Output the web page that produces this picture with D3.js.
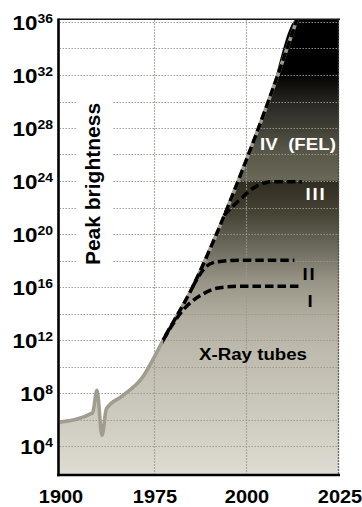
<!DOCTYPE html>
<html>
<head>
<meta charset="utf-8">
<script src="https://cdn.jsdelivr.net/npm/d3@7"></script>
<style>
  html, body { margin: 0; padding: 0; background: #fff; }
  svg { display: block; }
  text { font-family: "Liberation Sans", Arial, Helvetica, sans-serif; }
</style>
</head>
<body>
<svg id="chart" width="362" height="507"></svg>
<script>
// Peak brightness of X-ray sources over time (values are log10 of brightness)
const xTickYears = [1900, 1975, 2000, 2025];
const yTickExponents = [4, 8, 12, 16, 20, 24, 28, 32, 36];
const gridExponents = [4, 6, 8, 10, 12, 14, 16, 18, 20, 22, 24, 26, 28, 30, 32, 34, 36];

// X-ray tubes, then the free-electron-laser rise
const tubeYears = [1900, 1926, 1929.5, 1933.5, 1937, 1950, 1966, 1974];
const tubeExp   = [5.8,  6.5,  8.2,    4.8,    6.8,  7.8,  9.2,  10.5];
const felYears  = [1977.5, 1985.5, 1992, 1999, 2006, 2013.7];
const felExp    = [12,     16,     20,   24.8, 30,   36.2];

// Synchrotron generations I, II, III
const gen1Years = [1977.5, 1983, 1988.5, 1992, 1998, 2015];
const gen1Exp   = [12,     14.3, 15.5,   15.9, 16.05, 16.05];
const gen2Years = [1985.5, 1989, 1992, 1998, 2013];
const gen2Exp   = [16,     17.5, 17.9, 18.02, 18.02];
const gen3Years = [1994, 1997.6, 2002.8, 2007.3, 2015];
const gen3Exp   = [21.4, 22.4,   23.6,   23.95,  23.95];

const seriesLabels = ["IV  (FEL)", "III", "II", "I", "X-Ray tubes"];
const axisTitle = "Peak brightness";

// ---- layout ----
const svg = d3.select("#chart");
const plot = { left: 58.5, right: 339, top: 19.3, bottom: 475 };

const x = d3.scaleLinear().domain(xTickYears).range([60, 154, 246, 339]);
const y = d3.scaleLog().domain([1e4, 1e36]).range([446, 22]);
const yExp = e => y(Math.pow(10, e));
const topExp = Math.log10(y.invert(plot.top));
const crisp = v => Math.round(v) + 0.5;

const zip = (xs, es) => xs.map((yr, i) => ({ year: yr, exp: es[i] }));
const envelope = zip(tubeYears, tubeExp).concat(zip(felYears, felExp));
const envelopeFill = envelope.concat([{ year: 2025, exp: topExp }]);

const defs = svg.append("defs");

// colour ramp, keyed by exponent; breaks sharply at the third-generation level
const rampStops = [
  [topExp, "#000000"], [32.2, "#000000"], [31.6, "#0a0a08"], [29.7, "#2a2925"],
  [26.5, "#555446"], [24.05, "#6a6858"], [24.0, "#2f2c20"], [21.4, "#474536"],
  [18.9, "#6e6c5e"], [16.4, "#989587"], [13.9, "#b0ad9f"], [11.4, "#bdbaad"],
  [8.8, "#c5c2b6"], [6.3, "#cdcbbf"], [2.6, "#dbd9cf"], [1.8, "#e0ded5"]
];
const grad = defs.append("linearGradient")
  .attr("id", "ramp").attr("gradientUnits", "userSpaceOnUse")
  .attr("x1", 0).attr("x2", 0).attr("y1", plot.top).attr("y2", plot.bottom);
grad.selectAll("stop").data(rampStops).join("stop")
  .attr("offset", d => Math.max(0, Math.min(1, (yExp(d[0]) - plot.top) / (plot.bottom - plot.top))))
  .attr("stop-color", d => d[1]);

defs.append("clipPath").attr("id", "plotClip").append("rect")
  .attr("x", plot.left).attr("y", plot.top)
  .attr("width", plot.right - plot.left).attr("height", plot.bottom - plot.top);
defs.append("clipPath").attr("id", "felClip").append("rect")
  .attr("x", x(felYears[0])).attr("y", 0)
  .attr("width", 400).attr("height", 600);

// filled region under the envelope
const fillLayer = svg.append("g").attr("clip-path", "url(#plotClip)");
const area = d3.area()
  .x(d => x(d.year)).y0(plot.bottom).y1(d => yExp(d.exp))
  .curve(d3.curveMonotoneX);
fillLayer.append("path").datum(envelopeFill).attr("d", area).attr("fill", "url(#ramp)");

// dotted grid
const gridColor = "#9a9890";
const gridLayer = svg.append("g").attr("class", "grid");
gridLayer.selectAll("line.hgrid").data(gridExponents).join("line")
  .attr("class", "hgrid")
  .attr("x1", plot.left + 1).attr("x2", plot.right)
  .attr("y1", d => crisp(yExp(d))).attr("y2", d => crisp(yExp(d)))
  .attr("stroke", gridColor).attr("stroke-width", 1.2)
  .attr("stroke-dasharray", "1.4,1.6");
gridLayer.selectAll("line.vgrid").data(xTickYears.slice(1, 3)).join("line")
  .attr("class", "vgrid")
  .attr("x1", d => crisp(x(d))).attr("x2", d => crisp(x(d)))
  .attr("y1", plot.top + 1).attr("y2", plot.bottom)
  .attr("stroke", gridColor).attr("stroke-width", 1.2)
  .attr("stroke-dasharray", "1.4,1.6");
gridLayer.append("line")
  .attr("x1", crisp(x(2025)) - 1).attr("x2", crisp(x(2025)) - 1)
  .attr("y1", plot.top).attr("y2", plot.bottom)
  .attr("stroke", "#4a4a46").attr("stroke-width", 1.4)
  .attr("stroke-dasharray", "1.4,1.6");

// envelope outline and dashed curves
const curveLayer = svg.append("g").attr("clip-path", "url(#plotClip)");
const line = d3.line().x(d => x(d.year)).y(d => yExp(d.exp)).curve(d3.curveMonotoneX);
curveLayer.append("path").datum(envelope).attr("d", line)
  .attr("fill", "none").attr("stroke", "#a09d8f").attr("stroke-width", 3.6)
  .attr("stroke-linejoin", "round");

const dashed = sel => sel.attr("fill", "none").attr("stroke", "#000")
  .attr("stroke-width", 3.5).attr("stroke-dasharray", "8.5,4");
curveLayer.append("path").datum(envelope).attr("d", line)
  .attr("clip-path", "url(#felClip)").call(dashed);
[zip(gen1Years, gen1Exp), zip(gen2Years, gen2Exp), zip(gen3Years, gen3Exp)].forEach(s => {
  curveLayer.append("path").datum(s).attr("d", line).call(dashed);
});

// frame
svg.append("line").attr("x1", plot.left).attr("x2", plot.right + 1)
  .attr("y1", plot.top).attr("y2", plot.top)
  .attr("stroke", "#111").attr("stroke-width", 1.6);
svg.append("line").attr("x1", plot.left).attr("x2", plot.left)
  .attr("y1", plot.top - 0.8).attr("y2", plot.bottom + 1.3)
  .attr("stroke", "#000").attr("stroke-width", 2.6);
svg.append("line").attr("x1", plot.left - 1.3).attr("x2", plot.right + 1)
  .attr("y1", plot.bottom).attr("y2", plot.bottom)
  .attr("stroke", "#000").attr("stroke-width", 2.6);

// y tick labels: 10 with superscript exponent
const yt = svg.selectAll("g.ytick").data(yTickExponents).join("g")
  .attr("class", "ytick")
  .attr("transform", d => `translate(53,${yExp(d) + 8}) scale(1.12,1)`);
const ytText = yt.append("text").attr("text-anchor", "end")
  .attr("font-weight", "bold").attr("fill", "#000");
ytText.append("tspan").attr("font-size", 20).text("10");
ytText.append("tspan").attr("font-size", 12.5).attr("dy", -7).text(d => d);

// x tick labels
svg.selectAll("text.xtick").data(xTickYears).join("text")
  .attr("class", "xtick")
  .attr("transform", d => `translate(${x(d) + 1},503) scale(1.08,1)`)
  .attr("text-anchor", "middle").attr("font-weight", "bold")
  .attr("font-size", 18.5).attr("fill", "#000")
  .text(d => d);

// axis title on a white patch
svg.append("rect").attr("x", 76).attr("y", 90).attr("width", 36).attr("height", 184)
  .attr("fill", "#fff");
svg.append("text")
  .attr("transform", "translate(100,184) rotate(-90)")
  .attr("text-anchor", "middle").attr("font-size", 21).attr("font-weight", "bold")
  .attr("fill", "#000")
  .text(axisTitle);

// series labels
const labelPos = [
  { t: seriesLabels[0], x: 298, y: 150, fill: "#fff", ls: 0 },
  { t: seriesLabels[1], x: 316, y: 200, fill: "#fff", ls: 1.6 },
  { t: seriesLabels[2], x: 309.5, y: 279.5, fill: "#000", ls: 1.6 },
  { t: seriesLabels[3], x: 310, y: 307, fill: "#000", ls: 0 },
  { t: seriesLabels[4], x: 253, y: 360, fill: "#000", ls: 0 }
];
labelPos.forEach(p => {
  svg.append("text")
    .attr("transform", `translate(${p.x},${p.y}) scale(1.1,1)`)
    .attr("text-anchor", "middle").attr("font-weight", "bold")
    .attr("font-size", 17).attr("letter-spacing", p.ls)
    .attr("fill", p.fill)
    .style("white-space", "pre")
    .text(p.t);
});
</script>
</body>
</html>
